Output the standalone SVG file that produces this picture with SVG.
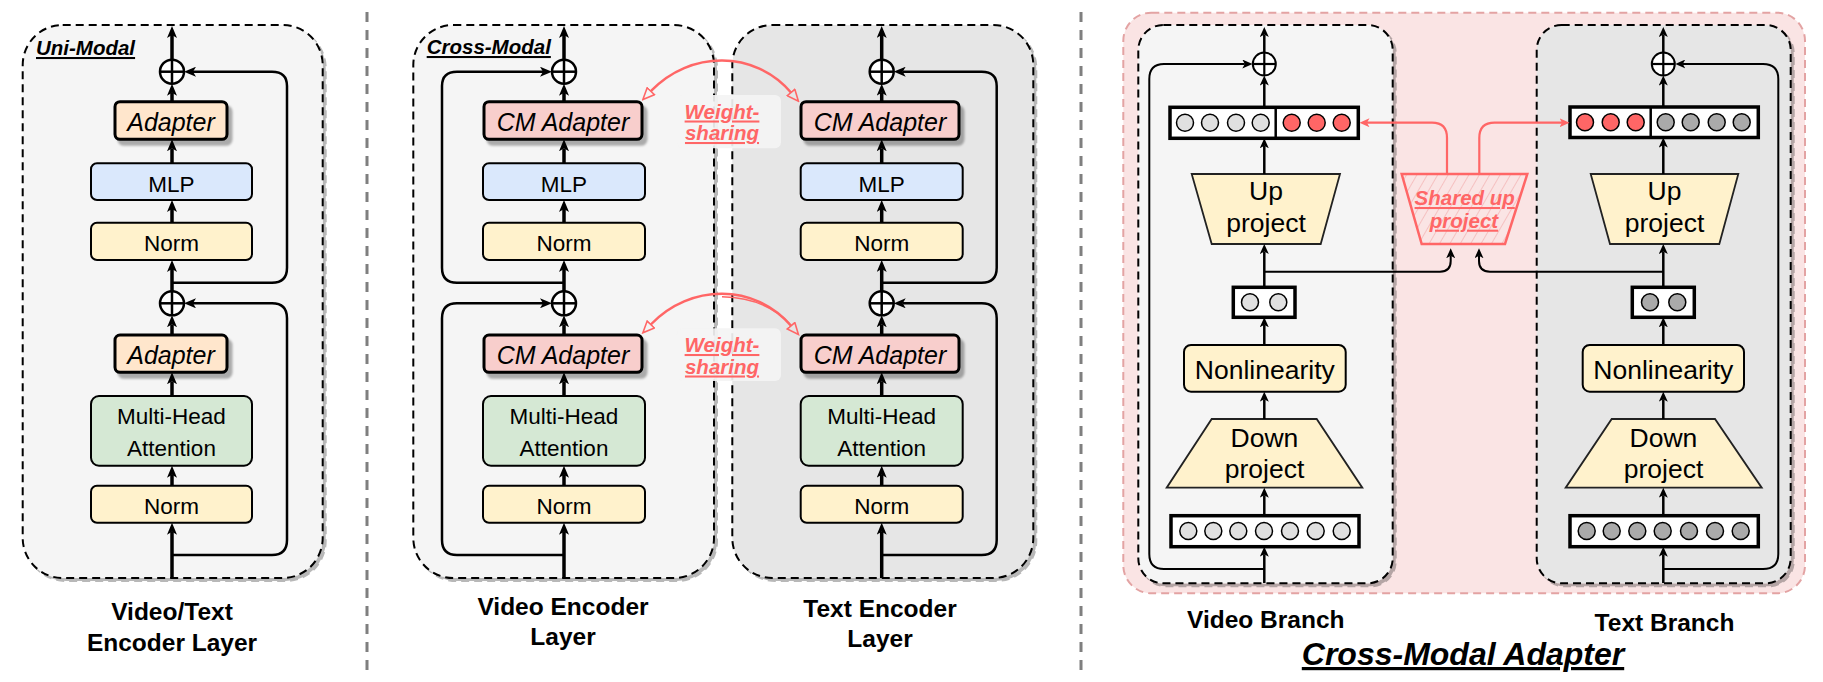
<svg xmlns="http://www.w3.org/2000/svg" width="1823" height="682" viewBox="0 0 1823 682">
<defs>
<style>
.tx{font-family:"Liberation Sans",Arial,sans-serif;fill:#000}
.bx{font-size:22.5px;text-anchor:middle}
.ad{font-size:25px;font-style:italic;text-anchor:middle}
.big{font-size:26.5px;text-anchor:middle}
.lbl{font-size:24.5px;font-weight:bold;text-anchor:middle}
.ttl{font-weight:bold;font-style:italic;text-decoration:underline}
.rt{fill:#ff6666;font-size:20.5px;font-weight:bold;font-style:italic;text-decoration:underline;text-anchor:middle}
.dsh{stroke:#000;stroke-width:2;stroke-dasharray:8 5}
.node{stroke:#000;stroke-width:2}
.thick{stroke:#000;stroke-width:3}
.main{stroke:#000;stroke-width:3.5;fill:none;marker-end:url(#ah)}
.res{stroke:#000;stroke-width:2.5;fill:none;marker-end:url(#ah)}
.m3{stroke:#000;stroke-width:2.5;fill:none;marker-end:url(#as)}
.r3{stroke:#000;stroke-width:2;fill:none;marker-end:url(#as)}
.redl{stroke:#ff6666;stroke-width:2.2;fill:none;marker-end:url(#ar)}
.arc{stroke:#ff6666;stroke-width:2.5;fill:none;marker-start:url(#ao);marker-end:url(#ao)}
.plus{fill:#fff;stroke:#000;stroke-width:2.5}
.pl{stroke:#000;stroke-width:2.5}
.vec{fill:#fff;stroke:#000;stroke-width:3.5}
.c{stroke:#000;stroke-width:1.5}
.cl{fill:#e0e0e0}
.cr{fill:#ff6666}
.cd{fill:#aaaaaa}
.trap{fill:#fff2cc;stroke:#222;stroke-width:1.8}
</style>
<marker id="ah" viewBox="0 0 12 10" refX="3" refY="5" markerWidth="12" markerHeight="10" markerUnits="userSpaceOnUse" orient="auto"><path d="M0,0 L12,5 L0,10 L3,5 z" fill="#000"/></marker>
<marker id="as" viewBox="0 0 10 9" refX="2.5" refY="4.5" markerWidth="10" markerHeight="9" markerUnits="userSpaceOnUse" orient="auto"><path d="M0,0 L10,4.5 L0,9 L2.5,4.5 z" fill="#000"/></marker>
<marker id="ar" viewBox="0 0 10 9" refX="2.5" refY="4.5" markerWidth="10" markerHeight="9" markerUnits="userSpaceOnUse" orient="auto"><path d="M0,0 L10,4.5 L0,9 L2.5,4.5 z" fill="#ff6666"/></marker>
<marker id="ao" viewBox="0 0 14 12" refX="1" refY="6" markerWidth="14" markerHeight="12" markerUnits="userSpaceOnUse" orient="auto-start-reverse"><path d="M1,1 L12.5,6 L1,11 z" fill="none" stroke="#ff6666" stroke-width="1.6"/></marker>
<filter id="sh" x="-10%" y="-10%" width="130%" height="130%"><feDropShadow dx="3" dy="3" stdDeviation="0.6" flood-color="#000" flood-opacity="0.28"/></filter>
<filter id="sha" x="-10%" y="-20%" width="130%" height="150%"><feDropShadow dx="4" dy="5" stdDeviation="1" flood-color="#000" flood-opacity="0.3"/></filter>
<pattern id="hatch" width="9" height="9" patternUnits="userSpaceOnUse" patternTransform="rotate(30)"><rect width="9" height="9" fill="#fae4e4"/><line x1="0" y1="0" x2="0" y2="9" stroke="#f2a9a9" stroke-width="1.2"/></pattern>
</defs>
<rect width="1823" height="682" fill="#fff"/>

<!-- separators -->
<g id="separators">
<line x1="367" y1="12" x2="367" y2="678" stroke="#7f7f7f" stroke-width="3" stroke-dasharray="10 8"/>
<line x1="1081" y1="12" x2="1081" y2="678" stroke="#7f7f7f" stroke-width="3" stroke-dasharray="10 8"/>
</g>

<!-- ===== Panel 1: Uni-modal ===== -->
<g id="uni-layer">
<rect x="22.7" y="25" width="300" height="553" rx="40" fill="#f5f5f5" class="dsh" filter="url(#sh)"/>
<text class="tx ttl" x="36" y="55" font-size="20.5">Uni-Modal</text>
</g>
<g id="uni-adapter1"><rect x="115" y="101.7" width="112" height="37.6" rx="5" fill="#ffe6cc" class="thick" filter="url(#sha)"/><text class="tx ad" x="171" y="131">Adapter</text></g>
<g id="uni-mlp"><rect x="91" y="163.3" width="161" height="36.7" rx="6" fill="#dae8fc" class="node"/><text class="tx bx" x="171.5" y="191.7">MLP</text></g>
<g id="uni-norm1"><rect x="91" y="222.7" width="161" height="37.3" rx="6" fill="#fff2cc" class="node"/><text class="tx bx" x="171.5" y="250.7">Norm</text></g>
<g id="uni-adapter2"><rect x="115" y="335" width="112" height="37.3" rx="5" fill="#ffe6cc" class="thick" filter="url(#sha)"/><text class="tx ad" x="171" y="364.3">Adapter</text></g>
<g id="uni-mha"><rect x="91" y="396" width="161" height="69.7" rx="8" fill="#d5e8d4" class="node"/><text class="tx bx" x="171.5" y="424.3">Multi-Head</text><text class="tx bx" x="171.5" y="456">Attention</text></g>
<g id="uni-norm2"><rect x="91" y="485.7" width="161" height="37" rx="6" fill="#fff2cc" class="node"/><text class="tx bx" x="171.5" y="513.7">Norm</text></g>
<g id="uni-plus1"><circle cx="172" cy="71.7" r="12" class="plus"/><line x1="160" y1="71.7" x2="184" y2="71.7" class="pl"/><line x1="172" y1="59.7" x2="172" y2="83.7" class="pl"/></g>
<g id="uni-plus2"><circle cx="172" cy="303.3" r="12" class="plus"/><line x1="160" y1="303.3" x2="184" y2="303.3" class="pl"/><line x1="172" y1="291.3" x2="172" y2="315.3" class="pl"/></g>
<g id="uni-label"><text class="tx lbl" x="172" y="620">Video/Text</text><text class="tx lbl" x="172" y="651">Encoder Layer</text></g>

<!-- ===== Panel 2: Cross-modal encoders ===== -->
<g id="video-layer">
<rect x="413.3" y="25" width="300.7" height="553" rx="40" fill="#f5f5f5" class="dsh" filter="url(#sh)"/>
<text class="tx ttl" x="426.7" y="54" font-size="20.5">Cross-Modal</text>
</g>
<g id="text-layer">
<rect x="732.3" y="25" width="301" height="553" rx="40" fill="#e6e6e6" class="dsh" filter="url(#sh)"/>
</g>
<g id="v-cm1"><rect x="484" y="101.7" width="158" height="37.6" rx="5" fill="#f8cecc" class="thick" filter="url(#sha)"/><text class="tx ad" x="563" y="131">CM Adapter</text></g>
<g id="v-mlp"><rect x="483" y="163.3" width="162" height="36.7" rx="6" fill="#dae8fc" class="node"/><text class="tx bx" x="564" y="191.7">MLP</text></g>
<g id="v-norm1"><rect x="483" y="222.7" width="162" height="37.3" rx="6" fill="#fff2cc" class="node"/><text class="tx bx" x="564" y="250.7">Norm</text></g>
<g id="v-cm2"><rect x="484" y="335" width="158" height="37.3" rx="5" fill="#f8cecc" class="thick" filter="url(#sha)"/><text class="tx ad" x="563" y="364.3">CM Adapter</text></g>
<g id="v-mha"><rect x="483" y="396" width="162" height="69.7" rx="8" fill="#d5e8d4" class="node"/><text class="tx bx" x="564" y="424.3">Multi-Head</text><text class="tx bx" x="564" y="456">Attention</text></g>
<g id="v-norm2"><rect x="483" y="485.7" width="162" height="37" rx="6" fill="#fff2cc" class="node"/><text class="tx bx" x="564" y="513.7">Norm</text></g>
<g id="v-plus1"><circle cx="564" cy="71.7" r="12" class="plus"/><line x1="552" y1="71.7" x2="576" y2="71.7" class="pl"/><line x1="564" y1="59.7" x2="564" y2="83.7" class="pl"/></g>
<g id="v-plus2"><circle cx="564" cy="303.3" r="12" class="plus"/><line x1="552" y1="303.3" x2="576" y2="303.3" class="pl"/><line x1="564" y1="291.3" x2="564" y2="315.3" class="pl"/></g>

<g id="t-cm1"><rect x="801" y="101.7" width="158" height="37.6" rx="5" fill="#f8cecc" class="thick" filter="url(#sha)"/><text class="tx ad" x="880" y="131">CM Adapter</text></g>
<g id="t-mlp"><rect x="800.7" y="163.3" width="162" height="36.7" rx="6" fill="#dae8fc" class="node"/><text class="tx bx" x="881.7" y="191.7">MLP</text></g>
<g id="t-norm1"><rect x="800.7" y="222.7" width="162" height="37.3" rx="6" fill="#fff2cc" class="node"/><text class="tx bx" x="881.7" y="250.7">Norm</text></g>
<g id="t-cm2"><rect x="801" y="335" width="158" height="37.3" rx="5" fill="#f8cecc" class="thick" filter="url(#sha)"/><text class="tx ad" x="880" y="364.3">CM Adapter</text></g>
<g id="t-mha"><rect x="800.7" y="396" width="162" height="69.7" rx="8" fill="#d5e8d4" class="node"/><text class="tx bx" x="881.7" y="424.3">Multi-Head</text><text class="tx bx" x="881.7" y="456">Attention</text></g>
<g id="t-norm2"><rect x="800.7" y="485.7" width="162" height="37" rx="6" fill="#fff2cc" class="node"/><text class="tx bx" x="881.7" y="513.7">Norm</text></g>
<g id="t-plus1"><circle cx="881.7" cy="71.7" r="12" class="plus"/><line x1="869.7" y1="71.7" x2="893.7" y2="71.7" class="pl"/><line x1="881.7" y1="59.7" x2="881.7" y2="83.7" class="pl"/></g>
<g id="t-plus2"><circle cx="881.7" cy="303.3" r="12" class="plus"/><line x1="869.7" y1="303.3" x2="893.7" y2="303.3" class="pl"/><line x1="881.7" y1="291.3" x2="881.7" y2="315.3" class="pl"/></g>

<g id="v-label"><text class="tx lbl" x="563" y="615">Video Encoder</text><text class="tx lbl" x="563" y="645">Layer</text></g>
<g id="t-label"><text class="tx lbl" x="880" y="617">Text Encoder</text><text class="tx lbl" x="880" y="647">Layer</text></g>

<!-- ===== Panel 3: Cross-Modal Adapter ===== -->
<g id="cma-region">
<rect x="1123.3" y="12.7" width="681.7" height="580.6" rx="28" fill="#fae4e4" stroke="#e3a3a3" stroke-width="2" stroke-dasharray="8 5"/>
</g>
<g id="video-branch"><rect x="1138.3" y="25" width="254.4" height="558.3" rx="25" fill="#f5f5f5" class="dsh" filter="url(#sh)"/></g>
<g id="text-branch"><rect x="1536.7" y="25" width="254" height="558.3" rx="25" fill="#e6e6e6" class="dsh" filter="url(#sh)"/></g>

<g id="vb-out-vec"><rect x="1170" y="107.3" width="188.3" height="31" class="vec"/><line x1="1275.7" y1="107.3" x2="1275.7" y2="138.3" stroke="#000" stroke-width="2.5"/>
<circle cx="1185" cy="122.7" r="8.5" class="c cl"/><circle cx="1210" cy="122.7" r="8.5" class="c cl"/><circle cx="1236" cy="122.7" r="8.5" class="c cl"/><circle cx="1260.7" cy="122.7" r="8.5" class="c cl"/>
<circle cx="1291.7" cy="122.7" r="8.5" class="c cr"/><circle cx="1316.7" cy="122.7" r="8.5" class="c cr"/><circle cx="1341.7" cy="122.7" r="8.5" class="c cr"/></g>
<g id="tb-out-vec"><rect x="1570" y="107" width="188.3" height="30.5" class="vec"/><line x1="1650.7" y1="107" x2="1650.7" y2="137.5" stroke="#000" stroke-width="2.5"/>
<circle cx="1585" cy="122.3" r="8.5" class="c cr"/><circle cx="1610.7" cy="122.3" r="8.5" class="c cr"/><circle cx="1635.7" cy="122.3" r="8.5" class="c cr"/>
<circle cx="1665.7" cy="122.3" r="8.5" class="c cd"/><circle cx="1690.7" cy="122.3" r="8.5" class="c cd"/><circle cx="1716.7" cy="122.3" r="8.5" class="c cd"/><circle cx="1741.7" cy="122.3" r="8.5" class="c cd"/></g>

<g id="vb-up"><polygon points="1191.7,174 1340,174 1320.7,244 1211.7,244" class="trap"/><text class="tx big" x="1266" y="200">Up</text><text class="tx big" x="1266" y="232">project</text></g>
<g id="tb-up"><polygon points="1590.7,174 1738.3,174 1719.3,244 1610,244" class="trap"/><text class="tx big" x="1664.5" y="200">Up</text><text class="tx big" x="1664.5" y="232">project</text></g>

<g id="shared-up"><polygon points="1401.7,174 1527.3,174 1505,244 1421.7,244" fill="url(#hatch)" stroke="#ff6666" stroke-width="2.5"/>
<text class="tx rt" x="1464.7" y="205">Shared up</text><text class="tx rt" x="1464" y="227.7">project</text></g>

<g id="vb-mid-vec"><rect x="1233.3" y="287.3" width="61.7" height="30" class="vec"/><circle cx="1250" cy="302.3" r="8.5" class="c cl"/><circle cx="1278.3" cy="302.3" r="8.5" class="c cl"/></g>
<g id="tb-mid-vec"><rect x="1632.3" y="287.3" width="62" height="30" class="vec"/><circle cx="1650" cy="302.3" r="8.5" class="c cd"/><circle cx="1677.3" cy="302.3" r="8.5" class="c cd"/></g>

<g id="vb-nonlin"><rect x="1184" y="345" width="161.7" height="46.7" rx="7" fill="#fff2cc" class="node"/><text class="tx big" x="1264.8" y="379" font-size="27">Nonlinearity</text></g>
<g id="tb-nonlin"><rect x="1582.7" y="345" width="161.3" height="46.7" rx="7" fill="#fff2cc" class="node"/><text class="tx big" x="1663.3" y="379" font-size="27">Nonlinearity</text></g>

<g id="vb-down"><polygon points="1211.7,419 1316.7,419 1362.3,487.7 1166.7,487.7" class="trap"/><text class="tx big" x="1264.5" y="447.3">Down</text><text class="tx big" x="1264.5" y="477.5">project</text></g>
<g id="tb-down"><polygon points="1611.7,419 1715,419 1761.7,487.7 1565.7,487.7" class="trap"/><text class="tx big" x="1663.5" y="447.3">Down</text><text class="tx big" x="1663.5" y="477.5">project</text></g>

<g id="vb-in-vec"><rect x="1171" y="515.7" width="188" height="31" class="vec"/>
<circle cx="1188.3" cy="531" r="8.5" class="c cl"/><circle cx="1213.3" cy="531" r="8.5" class="c cl"/><circle cx="1238.3" cy="531" r="8.5" class="c cl"/><circle cx="1264" cy="531" r="8.5" class="c cl"/><circle cx="1290" cy="531" r="8.5" class="c cl"/><circle cx="1315.7" cy="531" r="8.5" class="c cl"/><circle cx="1341.7" cy="531" r="8.5" class="c cl"/></g>
<g id="tb-in-vec"><rect x="1570" y="515.7" width="188.3" height="31" class="vec"/>
<circle cx="1586.7" cy="531" r="8.5" class="c cd"/><circle cx="1611.7" cy="531" r="8.5" class="c cd"/><circle cx="1637.3" cy="531" r="8.5" class="c cd"/><circle cx="1662.7" cy="531" r="8.5" class="c cd"/><circle cx="1689" cy="531" r="8.5" class="c cd"/><circle cx="1715" cy="531" r="8.5" class="c cd"/><circle cx="1740.7" cy="531" r="8.5" class="c cd"/></g>

<g id="vb-plus"><circle cx="1264.3" cy="64" r="11.5" fill="#fff" stroke="#000" stroke-width="2"/><line x1="1252.8" y1="64" x2="1275.8" y2="64" stroke="#000" stroke-width="2.2"/><line x1="1264.3" y1="52.5" x2="1264.3" y2="75.5" stroke="#000" stroke-width="2.2"/></g>
<g id="tb-plus"><circle cx="1663.3" cy="64" r="11.5" fill="#fff" stroke="#000" stroke-width="2"/><line x1="1651.8" y1="64" x2="1674.8" y2="64" stroke="#000" stroke-width="2.2"/><line x1="1663.3" y1="52.5" x2="1663.3" y2="75.5" stroke="#000" stroke-width="2.2"/></g>

<g id="branch-labels">
<text class="tx lbl" x="1265.8" y="628.3">Video Branch</text>
<text class="tx lbl" x="1664.5" y="631">Text Branch</text>
<text class="tx ttl" x="1463" y="665" font-size="32" text-anchor="middle">Cross-Modal Adapter</text>
</g>

<!-- ===== Connectors ===== -->
<g id="connectors">
<path class="main" d="M172,578 V531.7"/>
<path class="main" d="M172,485.7 V474.7"/>
<path class="main" d="M172,396 V381.3"/>
<path class="main" d="M172,335 V324.3"/>
<path class="main" d="M172,291.3 V269"/>
<path class="main" d="M172,222.7 V209"/>
<path class="main" d="M172,163.3 V148.3"/>
<path class="main" d="M172,101.7 V92.7"/>
<path class="main" d="M172,59.7 V35"/>
<path class="res" d="M172,282.7 H272 Q287,282.7 287,267.7 V86 Q287,71.7 272,71.7 H193"/>
<path class="res" d="M172,555 H272 Q287,555 287,540 V318.3 Q287,303.3 272,303.3 H193"/>
<path class="main" d="M564,578 V531.7"/>
<path class="main" d="M564,485.7 V474.7"/>
<path class="main" d="M564,396 V381.3"/>
<path class="main" d="M564,335 V324.3"/>
<path class="main" d="M564,291.3 V269"/>
<path class="main" d="M564,222.7 V209"/>
<path class="main" d="M564,163.3 V148.3"/>
<path class="main" d="M564,101.7 V92.7"/>
<path class="main" d="M564,59.7 V35"/>
<path class="res" d="M564,282.7 H457 Q442,282.7 442,267.7 V86 Q442,71.7 457,71.7 H543"/>
<path class="res" d="M564,555 H457 Q442,555 442,540 V318.3 Q442,303.3 457,303.3 H543"/>
<path class="main" d="M881.7,578 V531.7"/>
<path class="main" d="M881.7,485.7 V474.7"/>
<path class="main" d="M881.7,396 V381.3"/>
<path class="main" d="M881.7,335 V324.3"/>
<path class="main" d="M881.7,291.3 V269"/>
<path class="main" d="M881.7,222.7 V209"/>
<path class="main" d="M881.7,163.3 V148.3"/>
<path class="main" d="M881.7,101.7 V92.7"/>
<path class="main" d="M881.7,59.7 V35"/>
<path class="res" d="M881.7,282.7 H981.7 Q996.7,282.7 996.7,267.7 V86 Q996.7,71.7 981.7,71.7 H902.7"/>
<path class="res" d="M881.7,555 H981.7 Q996.7,555 996.7,540 V318.3 Q996.7,303.3 981.7,303.3 H902.7"/>
<path class="arc" d="M650.8,91.2 C690,50 755,50 791,92.5"/>
<path class="arc" d="M650.8,324.5 C690,283.3 755,283.3 791,325.8"/>
<path d="M722,296.8 C752,297.5 775,308 790,324" fill="none" stroke="#ff6666" stroke-width="1.4"/>
<path class="m3" d="M1264.3,583 V554.2"/>
<path class="m3" d="M1264.3,515.7 V495.2"/>
<path class="m3" d="M1264.3,419 V399.2"/>
<path class="m3" d="M1264.3,345 V324.8"/>
<path class="m3" d="M1264.3,287.3 V251.5"/>
<path class="m3" d="M1264.3,174 V145.8"/>
<path class="m3" d="M1264.3,107.3 V83"/>
<path class="m3" d="M1264.3,52.5 V34.5"/>
<path class="r3" d="M1264.3,569 H1164 Q1149.3,569 1149.3,554 V79 Q1149.3,64 1164,64 H1244.8"/>
<path class="r3" d="M1264.3,271.7 H1440 Q1450.7,271.7 1450.7,261 V255.8"/>
<path class="m3" d="M1663.3,583 V554.2"/>
<path class="m3" d="M1663.3,515.7 V495.2"/>
<path class="m3" d="M1663.3,419 V399.2"/>
<path class="m3" d="M1663.3,345 V324.8"/>
<path class="m3" d="M1663.3,287.3 V251.5"/>
<path class="m3" d="M1663.3,174 V145"/>
<path class="m3" d="M1663.3,107 V83"/>
<path class="m3" d="M1663.3,52.5 V34.5"/>
<path class="r3" d="M1663.3,569 H1763 Q1778.3,569 1778.3,554 V79 Q1778.3,64 1763,64 H1682.8"/>
<path class="r3" d="M1663.3,271.7 H1490 Q1479,271.7 1479,261 V255.8"/>
<path class="redl" d="M1447,174 V138 Q1447,122.7 1432,122.7 H1367"/>
<path class="redl" d="M1479.3,174 V138 Q1479.3,122.7 1494.6,122.7 H1562"/>
</g>

<!-- weight-sharing labels (on top) -->
<g id="ws1"><rect x="677" y="95" width="104" height="53.3" rx="6" fill="#f4f4f4" fill-opacity="0.92"/>
<text class="tx rt" x="722" y="118.5">Weight-</text><text class="tx rt" x="722" y="140">sharing</text></g>
<g id="ws2"><rect x="677" y="328.3" width="104" height="52.7" rx="6" fill="#f4f4f4" fill-opacity="0.92"/>
<text class="tx rt" x="722" y="352">Weight-</text><text class="tx rt" x="722" y="373.5">sharing</text></g>
</svg>
